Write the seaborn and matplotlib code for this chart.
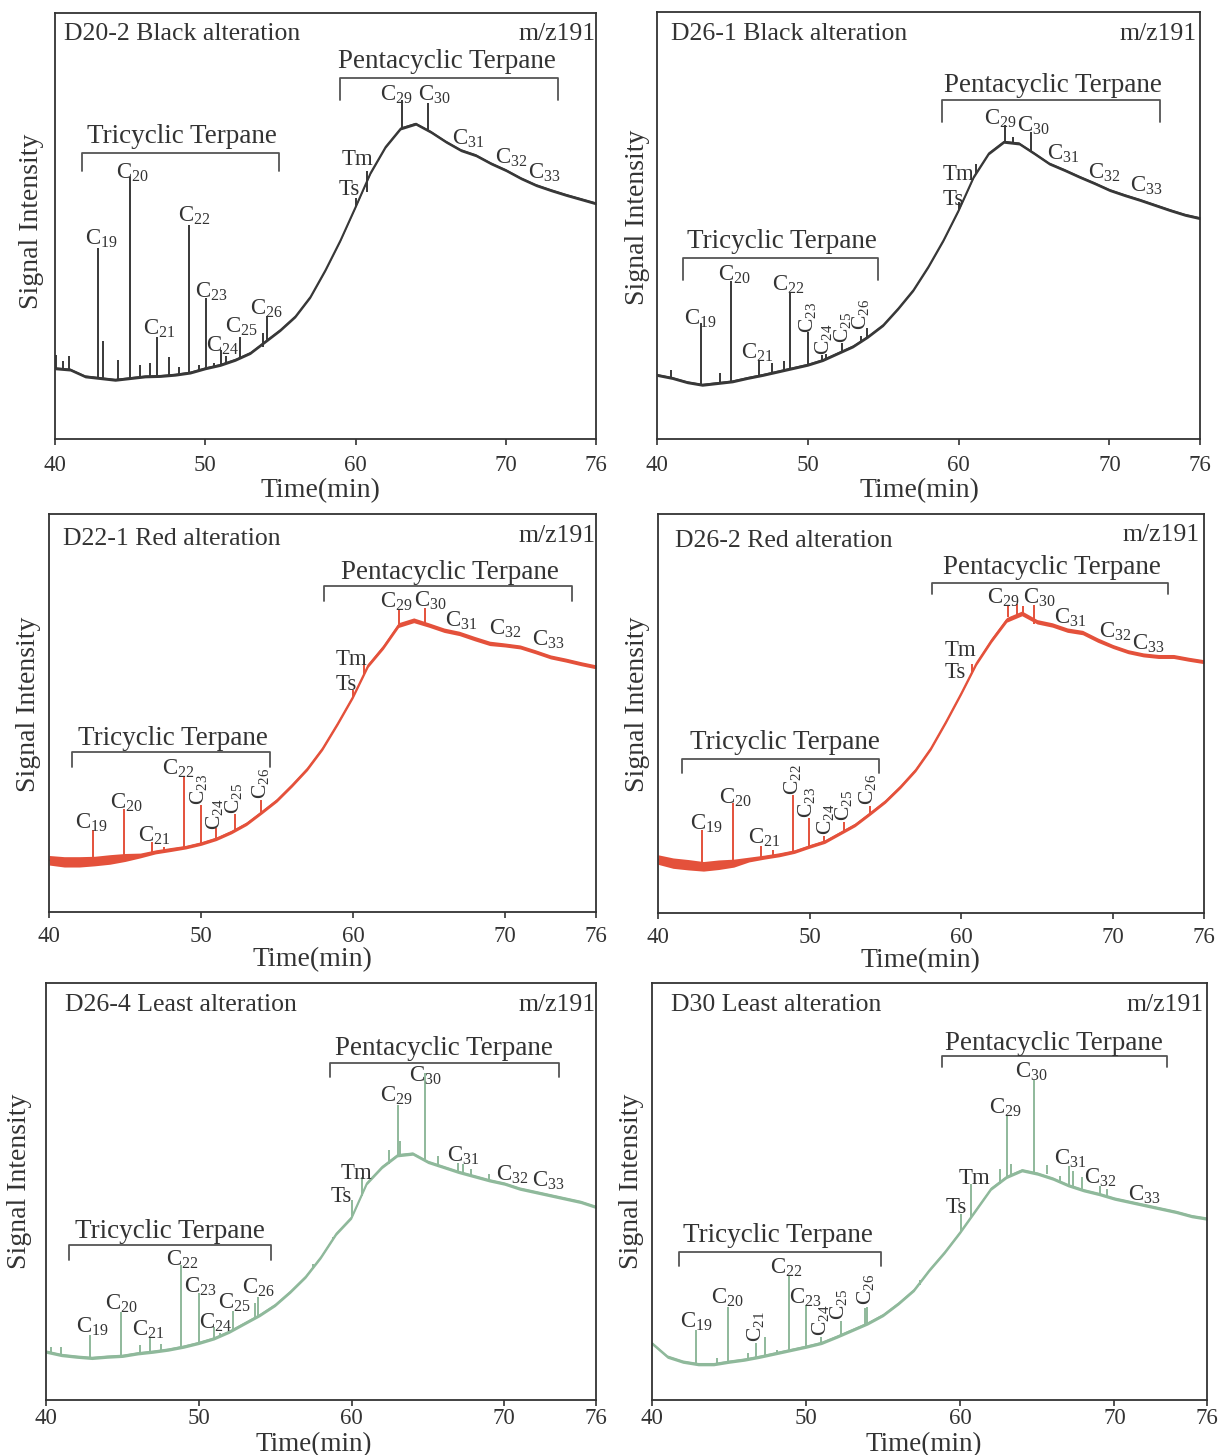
import numpy as np
import matplotlib
matplotlib.use("Agg")
import matplotlib.pyplot as plt
import seaborn as sns

# ---------------- data (intensity in % of axis height) ----------------
TIME = [40, 41, 42, 43, 44, 45, 46, 47, 48, 49, 50, 51, 52, 53, 54, 55, 56, 57, 58,
        59, 60, 61, 62, 63, 64, 65, 66, 67, 68, 69, 70, 71, 72, 73, 74, 75, 76]
X_TICKS = [40, 50, 60, 70, 76]

PEAK_NAMES = ["C$_{19}$", "C$_{20}$", "C$_{21}$", "C$_{22}$", "C$_{23}$", "C$_{24}$",
              "C$_{25}$", "C$_{26}$", "Ts", "Tm", "C$_{29}$", "C$_{30}$", "C$_{31}$",
              "C$_{32}$", "C$_{33}$"]

TITLES = ["D20-2 Black alteration", "D26-1 Black alteration", "D22-1 Red alteration",
          "D26-2 Red alteration", "D26-4 Least alteration", "D30 Least alteration"]

# Panel 1: D20-2
p1_base = [16.6, 16.3, 14.7, 14.3, 13.9, 14.3, 14.7, 14.8, 15.1, 15.6, 16.6, 17.4, 18.6,
           20.2, 22.9, 25.6, 28.8, 33.4, 39.7, 46.7, 54.5, 62.5, 68.6, 72.9, 74.0, 72.1,
           69.8, 67.8, 66.6, 64.7, 63.1, 61.2, 59.6, 58.4, 57.3, 56.3, 55.3]
p1_peak_t = [40.05, 40.55, 40.93, 42.87, 43.18, 44.17, 44.97, 45.67, 46.3, 46.8, 47.56,
             48.26, 48.93, 49.6, 50.04, 50.56, 51.05, 51.36, 52.32, 53.82, 54.08, 60.03,
             60.73, 63.11, 64.82]
p1_peak_lo = [16.6, 16.3, 16.2, 14.3, 14.3, 13.9, 14.3, 14.5, 14.7, 14.7, 14.9, 15.2, 15.4,
              15.9, 16.6, 17.0, 17.4, 17.7, 18.8, 21.5, 22.9, 54.5, 58.0, 73.0, 72.5]
p1_peak_hi = [19.8, 18.2, 19.4, 44.8, 22.9, 18.6, 61.4, 17.4, 17.8, 23.9, 19.2, 17.0, 50.2,
              17.4, 33.0, 17.9, 20.8, 19.5, 23.9, 24.8, 28.9, 56.5, 63.0, 79.5, 78.9]
p1_lab_x = [41.97, 44.09, 45.85, 48.18, 49.34, 50.07, 51.3, 52.97, 58.87, 59.05, 61.64,
            64.15, 66.42, 69.27, 71.47]
p1_lab_y = [45.5, 61.2, 24.5, 51.0, 33.2, 20.6, 24.9, 29.1, 57.3, 64.3, 79.3, 79.3, 69.0,
            64.7, 61.2]

# Panel 2: D26-1
p2_base = [15.0, 14.3, 13.3, 12.7, 13.1, 13.5, 14.3, 15.0, 15.8, 16.6, 17.4, 18.5, 20.1,
           21.7, 24.0, 26.7, 30.6, 34.9, 40.4, 46.6, 53.6, 61.4, 66.9, 69.6, 69.2, 66.9,
           64.5, 63.0, 61.4, 59.9, 58.3, 57.1, 56.0, 54.8, 53.6, 52.5, 51.7]
p2_peak_t = [40.9, 42.89, 44.2, 44.93, 46.79, 47.6, 48.39, 48.85, 50.01, 50.97, 51.23,
             52.28, 53.55, 53.94, 60.0, 61.16, 63.05, 63.6, 64.77]
p2_peak_lo = [14.3, 12.9, 13.2, 13.3, 14.6, 15.1, 15.8, 16.1, 17.4, 18.4, 18.7, 20.4, 22.8,
              23.7, 53.6, 62.0, 69.6, 69.6, 67.2]
p2_peak_hi = [16.2, 27.1, 15.4, 36.9, 18.5, 17.8, 18.2, 34.5, 25.0, 19.7, 19.8, 22.4, 24.0,
              26.0, 55.5, 64.5, 73.5, 70.8, 71.9]
p2_lab_x = [41.81, 44.05, 45.55, 47.61, 49.99, 51.02, 52.3, 53.5, 58.97, 58.97, 61.68,
            63.87, 65.86, 68.6, 71.35]
p2_lab_y = [26.7, 37.0, 18.9, 34.7, 24.8, 19.7, 22.4, 25.6, 54.8, 60.6, 73.7, 71.9, 65.3,
            61.0, 57.9]

# Panel 3: D22-1
p3_base = [13.0, 12.6, 12.6, 12.8, 13.2, 13.7, 14.2, 15.1, 15.7, 16.3, 17.2, 18.4, 20.1,
           22.2, 25.1, 28.1, 31.9, 36.0, 41.1, 47.4, 54.1, 62.0, 66.6, 72.1, 73.3, 72.1,
           70.8, 70.0, 68.7, 67.5, 67.1, 66.6, 65.4, 64.1, 63.3, 62.4, 61.6]
p3_peak_t = [42.87, 44.92, 46.77, 47.54, 48.87, 49.97, 51.0, 52.23, 53.95, 60.0, 60.74,
             63.05, 64.77]
p3_peak_lo = [12.8, 13.7, 14.9, 15.4, 16.2, 17.2, 18.4, 20.5, 24.9, 54.1, 59.9, 72.3, 72.5]
p3_peak_hi = [20.5, 26.0, 17.6, 16.3, 33.9, 26.8, 21.0, 24.7, 28.2, 55.7, 62.0, 76.0, 76.5]
p3_lab_x = [41.69, 44.03, 45.87, 47.41, 49.85, 50.87, 52.15, 53.9, 58.87, 58.87, 61.77,
            64.0, 66.05, 68.95, 71.77]
p3_lab_y = [21.0, 26.0, 17.6, 34.4, 26.8, 20.5, 24.7, 28.5, 55.9, 62.0, 76.5, 76.7, 71.8,
            69.6, 66.9]

# Panel 4: D26-2
p4_base = [13.4, 12.5, 12.1, 11.7, 12.1, 12.5, 13.4, 14.0, 14.6, 15.4, 16.7, 17.9, 20.0,
           22.1, 25.0, 28.0, 31.7, 35.9, 41.3, 48.0, 55.1, 62.6, 68.4, 73.5, 75.1, 73.0,
           72.2, 70.9, 70.3, 68.4, 66.8, 65.5, 64.7, 64.3, 64.3, 63.6, 63.0]
p4_peak_t = [42.88, 44.96, 46.81, 47.58, 48.91, 49.99, 50.97, 52.28, 53.97, 60.72, 63.09,
             63.68, 64.06, 64.78]
p4_peak_lo = [11.7, 12.5, 13.7, 14.2, 15.4, 16.7, 17.9, 20.4, 24.9, 60.5, 74.1, 74.5, 74.8,
              72.5]
p4_peak_hi = [20.9, 27.5, 16.7, 15.9, 29.6, 23.8, 19.4, 22.7, 26.7, 62.5, 77.0, 77.5, 77.0,
              77.2]
p4_lab_x = [42.1, 44.03, 45.96, 48.86, 49.8, 51.05, 52.22, 53.79, 58.93, 58.93, 61.7,
            64.06, 66.12, 69.07, 71.25]
p4_lab_y = [20.9, 27.5, 17.4, 29.6, 23.8, 19.6, 23.0, 27.1, 58.8, 64.3, 77.5, 77.5, 72.5,
            68.9, 65.9]

# Panel 5: D26-4
p5_base = [11.6, 10.8, 10.4, 10.1, 10.4, 10.6, 11.2, 11.6, 12.1, 12.8, 13.7, 14.8, 16.4,
           18.4, 20.4, 22.8, 26.0, 29.6, 34.3, 39.9, 43.8, 52.0, 55.9, 58.7, 59.1, 57.1,
           55.9, 54.7, 53.7, 52.7, 51.9, 50.7, 49.9, 49.1, 48.3, 47.5, 46.3]
p5_peak_t = [40.3, 41.0, 42.88, 44.94, 46.14, 46.78, 47.54, 48.84, 50.01, 50.98, 51.4,
             52.25, 53.7, 53.89, 57.5, 58.8, 60.0, 60.71, 62.44, 63.06, 63.2, 64.79, 65.68,
             66.96, 67.29, 67.85, 68.99]
p5_peak_lo = [11.4, 10.8, 10.1, 10.6, 11.1, 11.4, 11.8, 12.7, 13.7, 14.8, 15.3, 16.8, 19.8,
              20.2, 31.5, 38.3, 43.8, 48.9, 56.5, 58.7, 58.7, 57.5, 56.5, 54.7, 54.5, 53.9,
              52.8]
p5_peak_hi = [12.8, 12.8, 15.7, 21.2, 13.2, 14.8, 13.4, 32.3, 25.6, 17.4, 16.0, 21.4, 23.2,
              24.8, 32.7, 39.1, 47.9, 53.5, 59.9, 70.7, 62.0, 78.3, 58.5, 56.9, 56.7, 55.5,
              54.2]
p5_lab_x = [41.99, 43.85, 45.63, 47.85, 49.04, 50.0, 51.25, 52.82, 58.62, 59.31, 61.86,
            63.77, 66.27, 69.45, 71.8]
p5_lab_y = [16.1, 21.6, 15.3, 32.1, 25.7, 17.0, 21.8, 25.6, 47.4, 52.9, 71.5, 76.4, 57.1,
            52.5, 51.1]

# Panel 6: D30
p6_base = [13.6, 10.4, 9.2, 8.6, 8.6, 9.2, 9.7, 10.4, 11.2, 12.0, 12.8, 13.7, 15.2, 16.8,
           18.4, 20.4, 23.2, 26.4, 31.2, 35.5, 40.3, 45.5, 50.7, 53.5, 55.1, 54.3, 53.1,
           51.5, 50.3, 49.4, 48.3, 47.5, 46.7, 45.9, 45.1, 44.1, 43.5]
p6_peak_t = [42.88, 44.2, 44.95, 46.2, 46.77, 47.3, 48.1, 48.86, 49.97, 50.98, 52.29,
             53.84, 53.96, 57.4, 60.02, 60.7, 62.55, 63.05, 63.3, 64.77, 65.63, 66.46,
             67.04, 67.34, 67.9, 69.04, 69.49]
p6_peak_lo = [8.6, 8.6, 9.2, 9.8, 10.2, 10.6, 11.3, 11.9, 12.8, 13.7, 15.4, 17.8, 18.0,
              27.5, 40.3, 44.0, 51.7, 53.5, 54.0, 54.5, 54.2, 52.6, 51.5, 51.2, 50.5, 49.3,
              48.9]
p6_peak_hi = [16.8, 10.0, 22.4, 11.2, 13.6, 15.2, 12.0, 29.7, 22.8, 15.2, 19.0, 22.0, 22.4,
              28.8, 44.7, 51.8, 55.3, 68.1, 56.5, 76.7, 56.3, 53.7, 56.1, 54.8, 53.5, 51.3,
              50.7]
p6_lab_x = [41.79, 43.86, 46.69, 47.64, 48.91, 50.93, 52.07, 53.84, 59.06, 59.89, 61.84,
            63.55, 66.07, 68.04, 70.88]
p6_lab_y = [17.4, 23.0, 14.0, 30.2, 23.2, 15.3, 19.2, 22.8, 44.9, 51.9, 68.7, 77.3, 56.5,
            51.9, 47.9]

# half-width of the baseline noise band, per time point (red traces are noisier early on)
noise_black = [0.35] * 37
noise_red = [1.2, 1.3, 1.3, 1.2, 1.2, 1.0, 0.6, 0.5, 0.5, 0.45, 0.45, 0.45, 0.45, 0.45,
             0.45, 0.45, 0.45, 0.45, 0.45, 0.45, 0.45, 0.5, 0.55, 0.6, 0.6, 0.55, 0.55,
             0.55, 0.55, 0.55, 0.5, 0.5, 0.5, 0.5, 0.5, 0.5, 0.5]
noise_green = [0.4] * 37

# bracket groups: (x_start, x_end, y_bar, y_foot, text_x, text_y)
tri_brackets = [(41.79, 54.93, 67.2, 63.0, 48.44, 69.5), (41.75, 54.63, 42.3, 37.3, 48.26, 44.7),
                (41.54, 54.56, 40.2, 36.5, 48.18, 41.9), (41.59, 54.56, 38.6, 35.1, 48.35, 41.1),
                (41.50, 54.70, 37.1, 33.5, 48.10, 38.9), (41.74, 54.87, 35.4, 32.1, 48.15, 37.9)]
penta_brackets = [(58.94, 73.44, 84.8, 79.5, 66.10, 87.0), (58.89, 73.37, 79.3, 74.3, 66.25, 81.3),
                  (58.10, 74.41, 81.9, 78.2, 66.38, 83.8), (58.05, 73.61, 82.8, 80.0, 66.00, 85.0),
                  (58.57, 73.60, 80.8, 77.5, 66.06, 82.7), (58.81, 73.41, 82.4, 79.9, 66.08, 84.0)]

# which peak labels are written vertically in each panel
rotated = [[], [4, 5, 6, 7], [4, 5, 6, 7], [3, 4, 5, 6, 7], [], [2, 5, 6, 7]]

# ---------------- style ----------------
sns.set_theme(style="white")
plt.rcParams["font.family"] = ["Liberation Serif", "DejaVu Serif"]
plt.rcParams["mathtext.default"] = "regular"

TXT = "#333333"
C_BLACK, C_RED, C_GREEN = "#383838", "#e4513b", "#8fb99b"
colors = [C_BLACK, C_BLACK, C_RED, C_RED, C_GREEN, C_GREEN]
noises = [noise_black, noise_black, noise_red, noise_red, noise_green, noise_green]

rects = [(0.0451, 0.6983, 0.4434, 0.2928), (0.5385, 0.6983, 0.4451, 0.2935),
         (0.0402, 0.3732, 0.4484, 0.2735), (0.5393, 0.3725, 0.4475, 0.2742),
         (0.0377, 0.0378, 0.4508, 0.2866), (0.5344, 0.0378, 0.4549, 0.2866)]
title_pos = [(0.0165, 0.9375, 0.999, 0.9375), (0.025, 0.935, 0.993, 0.935),
             (0.0256, 0.922, 0.999, 0.930), (0.032, 0.917, 0.993, 0.933),
             (0.034, 0.933, 0.9986, 0.933), (0.035, 0.934, 0.994, 0.934)]
ylab_pos = [(-0.044, 0.512), (-0.035, 0.52), (-0.038, 0.523), (-0.038, 0.524),
            (-0.049, 0.525), (-0.036, 0.525)]
xlab_pos = [(0.49, -0.122), (0.483, -0.122), (0.482, -0.12), (0.48, -0.12),
            (0.487, -0.106), (0.49, -0.106)]
tick_pad = [7, 7, 5.5, 5.5, 1.5, 1.5]
xlab_size = [20, 20, 20, 20, 19.5, 19.5]

bases = [p1_base, p2_base, p3_base, p4_base, p5_base, p6_base]
peak_ts = [p1_peak_t, p2_peak_t, p3_peak_t, p4_peak_t, p5_peak_t, p6_peak_t]
peak_los = [p1_peak_lo, p2_peak_lo, p3_peak_lo, p4_peak_lo, p5_peak_lo, p6_peak_lo]
peak_his = [p1_peak_hi, p2_peak_hi, p3_peak_hi, p4_peak_hi, p5_peak_hi, p6_peak_hi]
lab_xs = [p1_lab_x, p2_lab_x, p3_lab_x, p4_lab_x, p5_lab_x, p6_lab_x]
lab_ys = [p1_lab_y, p2_lab_y, p3_lab_y, p4_lab_y, p5_lab_y, p6_lab_y]

fig = plt.figure(figsize=(12.2, 14.55), dpi=100)

for i in range(6):
    ax = fig.add_axes(rects[i])
    c = colors[i]
    base = np.array(bases[i])
    nz = np.array(noises[i])
    ax.fill_between(TIME, base - nz, base + nz, color=c, lw=0)
    sns.lineplot(x=TIME, y=bases[i], ax=ax, color=c, lw=1.2, legend=False)
    ax.vlines(peak_ts[i], peak_los[i], peak_his[i], color=c, lw=1.4)

    ax.set_xlim(40, 76)
    ax.set_ylim(0, 100)
    ax.set_xticks(X_TICKS)
    ax.set_xticklabels([str(t) for t in X_TICKS])
    ax.set_yticks([])
    ax.tick_params(axis="x", direction="out", length=4.5, width=1.2, color=TXT,
                   labelcolor=TXT, labelsize=16.5, pad=tick_pad[i], bottom=True)
    for sp in ax.spines.values():
        sp.set_color(TXT)
        sp.set_linewidth(1.3)

    ax.set_xlabel("Time(min)", fontsize=xlab_size[i], color=TXT)
    ax.xaxis.set_label_coords(*xlab_pos[i])
    ax.xaxis.label.set_va("center")
    ax.set_ylabel("Signal Intensity", fontsize=20, color=TXT)
    ax.yaxis.set_label_coords(*ylab_pos[i])
    ax.yaxis.label.set_va("center")

    tx, ty, mx, my = title_pos[i]
    ax.text(tx, ty, TITLES[i], transform=ax.transAxes, fontsize=18.5, color=TXT,
            ha="left", va="baseline")
    ax.text(mx, my, "m/z191", transform=ax.transAxes, fontsize=18.5, color=TXT,
            ha="right", va="baseline")

    for (x0, x1, yb, yf, xt, yt), name in ((tri_brackets[i], "Tricyclic Terpane"),
                                          (penta_brackets[i], "Pentacyclic Terpane")):
        ax.plot([x0, x0, x1, x1], [yf, yb, yb, yf], color="#555555", lw=1.3)
        ax.text(xt, yt, name, fontsize=19.5, color=TXT, ha="center", va="baseline")

    for k, name in enumerate(PEAK_NAMES):
        if k in rotated[i]:
            ax.text(lab_xs[i][k], lab_ys[i][k], name, fontsize=15.5, color=TXT,
                    rotation=90, ha="center", va="bottom")
        else:
            ax.text(lab_xs[i][k], lab_ys[i][k], name, fontsize=16.5, color=TXT,
                    ha="left", va="baseline")

fig.savefig("out.png", dpi=100)
